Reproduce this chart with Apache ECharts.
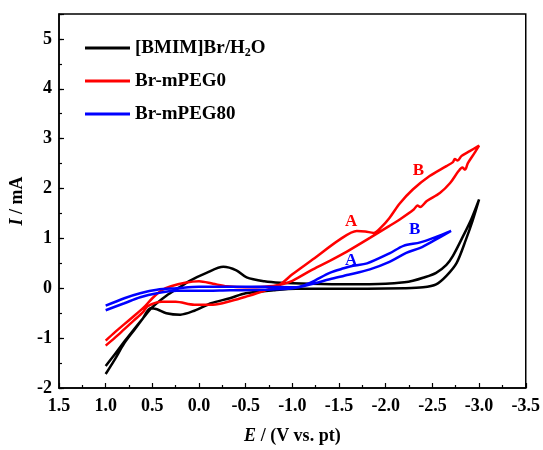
<!DOCTYPE html>
<html>
<head>
<meta charset="utf-8">
<script src="https://cdn.jsdelivr.net/npm/echarts@6/dist/echarts.min.js"></script>
<style>
  html, body { margin: 0; padding: 0; background: #fff; }
  #cv { width: 543px; height: 450px; }
</style>
</head>
<body>
<div id="cv"></div>
<script>
// series names
const names = ['[BMIM]Br/H2O', 'Br-mPEG0', 'Br-mPEG80'];

// [BMIM]Br/H2O, closed loop (E in V, I in mA)
const blackX = [1.0, 0.9, 0.8, 0.7, 0.6, 0.5, 0.35, 0.2, 0.1, -0.08, -0.26, -0.4, -0.51, -0.7, -0.87, -1.2, -1.6, -2.0, -2.2, -2.29, -2.4, -2.54, -2.65, -2.72, -2.83, -2.92, -3.0,
  -2.93, -2.86, -2.76, -2.65, -2.54, -2.4, -2.2, -1.8, -1.4, -1.04, -0.8, -0.5, -0.33, -0.13, 0.05, 0.2, 0.35, 0.45, 0.52, 0.6, 0.7, 0.8, 0.9, 1.0];
const blackY = [-1.56, -1.32, -1.07, -0.83, -0.6, -0.38, -0.15, 0.03, 0.15, 0.31, 0.43, 0.36, 0.22, 0.14, 0.11, 0.09, 0.08, 0.09, 0.12, 0.15, 0.21, 0.31, 0.47, 0.65, 1.05, 1.4, 1.78,
  1.35, 0.98, 0.51, 0.25, 0.08, 0.02, 0.0, -0.01, -0.01, -0.01, -0.04, -0.1, -0.2, -0.3, -0.45, -0.53, -0.5, -0.42, -0.4, -0.6, -0.85, -1.1, -1.42, -1.72];

// Br-mPEG0
const redX = [1.0, 0.9, 0.8, 0.7, 0.6, 0.5, 0.4, 0.3, 0.15, 0.0, -0.15, -0.3, -0.5, -0.7, -0.87, -1.0, -1.22, -1.4, -1.58, -1.83, -2.04, -2.15, -2.3, -2.34, -2.37, -2.44, -2.58, -2.69, -2.78, -2.82, -2.85, -2.88, -2.95, -3.0,
  -2.9, -2.81, -2.77, -2.74, -2.72, -2.65, -2.47, -2.29, -2.15, -2.04, -1.95, -1.87, -1.78, -1.69, -1.51, -1.22, -1.0, -0.87, -0.7, -0.5, -0.35, -0.15, 0.05, 0.25, 0.4, 0.55, 0.6, 0.7, 0.8, 0.9, 1.0];
const redY = [-1.05, -0.88, -0.72, -0.56, -0.4, -0.2, -0.04, 0.04, 0.11, 0.14, 0.09, 0.04, 0.02, 0.03, 0.07, 0.15, 0.38, 0.55, 0.73, 1.01, 1.25, 1.38, 1.58, 1.66, 1.63, 1.75, 1.91, 2.11, 2.35, 2.42, 2.38, 2.51, 2.71, 2.86,
  2.75, 2.65, 2.56, 2.59, 2.53, 2.45, 2.25, 1.98, 1.7, 1.41, 1.22, 1.11, 1.14, 1.15, 0.98, 0.58, 0.28, 0.08, -0.05, -0.17, -0.25, -0.33, -0.33, -0.27, -0.27, -0.36, -0.48, -0.65, -0.82, -0.99, -1.15];

// Br-mPEG80
const blueX = [1.0, 0.8, 0.63, 0.45, 0.24, 0.0, -0.33, -0.7, -1.04, -1.2, -1.4, -1.55, -1.65, -1.8, -2.04, -2.19, -2.37, -2.54, -2.7,
  -2.51, -2.37, -2.22, -2.04, -1.83, -1.6, -1.4, -1.2, -1.0, -0.7, -0.33, 0.0, 0.24, 0.45, 0.63, 0.8, 1.0];
const blueY = [-0.35, -0.2, -0.1, -0.03, 0.0, 0.03, 0.03, 0.03, 0.02, 0.12, 0.31, 0.4, 0.45, 0.5, 0.7, 0.85, 0.92, 1.03, 1.15,
  0.95, 0.81, 0.71, 0.53, 0.38, 0.27, 0.18, 0.08, 0.0, -0.03, -0.04, -0.05, -0.05, -0.1, -0.18, -0.3, -0.44];

// peak labels
const redLabelText = ['A', 'B'];
const redLabelX = [-1.63, -2.35];
const redLabelY = [1.33, 2.35];
const blueLabelText = ['A', 'B'];
const blueLabelX = [-1.63, -2.31];
const blueLabelY = [0.55, 1.18];

// axis ranges
const xMin = -3.5, xMax = 1.5, xStep = 0.5;
const yMin = -2, yMax = 5.5, yStep = 1;

const colors = ['#000000', '#ff0000', '#0000ff'];
const font = "'Liberation Serif', 'Times New Roman', serif";

function zip(xs, ys) {
  return xs.map((x, i) => [x, ys[i]]);
}

function peakMarks(texts, xs, ys, color) {
  return {
    symbol: 'circle',
    symbolSize: 0,
    silent: true,
    label: {
      show: true,
      formatter: '{b}',
      color: color,
      fontFamily: font,
      fontWeight: 'bold',
      fontSize: 17
    },
    data: texts.map((t, i) => ({ name: t, coord: [xs[i], ys[i]] }))
  };
}

const chart = echarts.init(document.getElementById('cv'));

const option = {
  animation: false,
  grid: {
    left: 59, right: 17, top: 14, bottom: 61,
    show: true, borderColor: '#000', borderWidth: 1.5
  },
  legend: {
    data: names,
    orient: 'vertical',
    left: 85,
    top: 37,
    padding: 0,
    icon: 'rect',
    itemWidth: 45,
    itemHeight: 3,
    itemGap: 11,
    formatter: function (name) {
      return name === names[0] ? '[BMIM]Br/H{sub|2}O' : name;
    },
    textStyle: {
      fontFamily: font,
      fontWeight: 'bold',
      fontSize: 19,
      lineHeight: 22,
      color: '#000',
      rich: {
        sub: { fontFamily: font, fontWeight: 'bold', fontSize: 12, lineHeight: 22, verticalAlign: 'bottom', padding: [9, 0, 0, 0] }
      }
    }
  },
  xAxis: {
    type: 'value',
    min: xMin, max: xMax, interval: xStep,
    inverse: true,
    name: '{i|E} / (V vs. pt)',
    nameLocation: 'middle',
    nameGap: 39,
    nameTextStyle: {
      fontFamily: font, fontWeight: 'bold', fontSize: 18, color: '#000',
      rich: { i: { fontFamily: font, fontWeight: 'bold', fontStyle: 'italic', fontSize: 18, color: '#000' } }
    },
    axisLine: { onZero: false, lineStyle: { color: '#000', width: 1.5 } },
    axisTick: { inside: true, length: 5, lineStyle: { color: '#000', width: 1.2 } },
    minorTick: { show: true, splitNumber: 2, length: 3, lineStyle: { color: '#000', width: 1.2 } },
    splitLine: { show: false },
    axisLabel: {
      margin: 9,
      fontFamily: font, fontWeight: 'bold', fontSize: 18, color: '#000',
      formatter: v => v.toFixed(1)
    }
  },
  yAxis: [
    {
      type: 'value',
      min: yMin, max: yMax, interval: yStep,
      name: '{i|I} / mA',
      nameLocation: 'middle',
      nameRotate: 90,
      nameGap: 32,
      nameTextStyle: {
        fontFamily: font, fontWeight: 'bold', fontSize: 18, color: '#000',
        rich: { i: { fontFamily: font, fontWeight: 'bold', fontStyle: 'italic', fontSize: 18, color: '#000' } }
      },
      axisLine: { onZero: false, lineStyle: { color: '#000', width: 1.5 } },
      axisTick: { inside: true, length: 5, lineStyle: { color: '#000', width: 1.2 } },
      splitLine: { show: false },
      axisLabel: {
        margin: 7,
        fontFamily: font, fontWeight: 'bold', fontSize: 18, color: '#000',
        formatter: v => Number.isInteger(v) ? String(v) : ''
      }
    },
    {
      // half-step minor ticks
      type: 'value',
      position: 'left',
      min: yMin, max: yMax, interval: yStep / 2,
      axisLine: { show: false, onZero: false },
      axisTick: { inside: true, length: 3, lineStyle: { color: '#000', width: 1.2 } },
      axisLabel: { show: false },
      splitLine: { show: false }
    }
  ],
  series: [
    {
      name: names[0], type: 'line', data: zip(blackX, blackY),
      symbol: 'none', smooth: 0.3, color: colors[0],
      lineStyle: { width: 2.5 }
    },
    {
      name: names[1], type: 'line', data: zip(redX, redY),
      symbol: 'none', smooth: 0.3, color: colors[1],
      lineStyle: { width: 2.5 },
      markPoint: peakMarks(redLabelText, redLabelX, redLabelY, colors[1])
    },
    {
      name: names[2], type: 'line', data: zip(blueX, blueY),
      symbol: 'none', smooth: 0.3, color: colors[2],
      lineStyle: { width: 2.5 },
      markPoint: peakMarks(blueLabelText, blueLabelX, blueLabelY, colors[2])
    }
  ]
};

chart.setOption(option);
window.addEventListener('resize', () => chart.resize());
</script>
</body>
</html>
